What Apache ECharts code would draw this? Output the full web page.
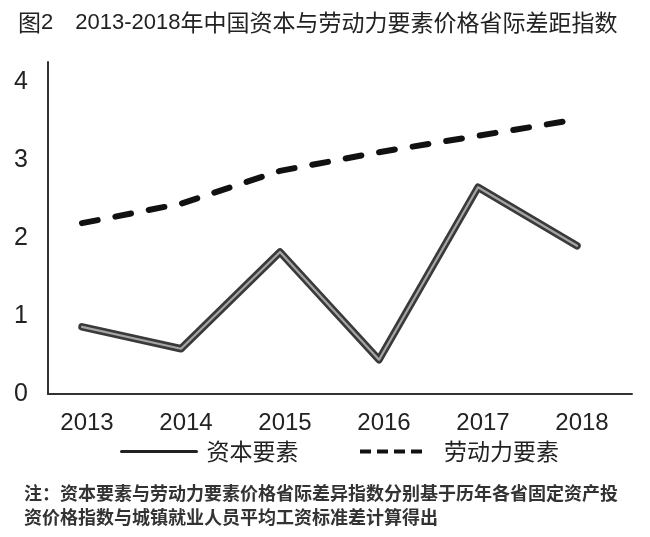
<!DOCTYPE html>
<html>
<head>
<meta charset="utf-8">
<script src="https://cdn.jsdelivr.net/npm/echarts@6/dist/echarts.min.js"></script>
<style>html,body{margin:0;padding:0;background:#fff}#c{width:650px;height:537px}</style>
</head>
<body>
<div id="c"></div>
<script>
var years = ['2013', '2014', '2015', '2016', '2017', '2018'];
var capital = [0.86, 0.58, 1.82, 0.44, 2.65, 1.90];
var labor = [2.19, 2.44, 2.86, 3.10, 3.31, 3.52];
var yTicks = [0, 1, 2, 3, 4];
var titleParts = ['图', '2', '2013-2018', '年中国资本与劳动力要素价格省际差距指数'];
var noteLines = ['注：资本要素与劳动力要素价格省际差异指数分别基于历年各省固定资产投', '资价格指数与城镇就业人员平均工资标准差计算得出'];

var chart = echarts.init(document.getElementById('c'), null, {renderer: 'canvas'});
var yMax = 4.256;
var latin = "'Liberation Sans', 'Noto Sans CJK SC', sans-serif";
var cjk = "'Noto Sans CJK SC', sans-serif";
var titleText = '{c|' + titleParts[0] + '}{d|' + titleParts[1] + '}{g| }{d|' + titleParts[2] + '}{c|' + titleParts[3] + '}';
var option = {
  backgroundColor: '#fff',
  animation: false,
  title: [
    {text: titleText, left: 18, top: 11, padding: 0,
     textStyle: {
       rich: {
         c: {fontSize: 23, fontFamily: cjk, color: '#222', fontWeight: 'normal'},
         d: {fontSize: 22, fontFamily: latin, color: '#222', fontWeight: 'normal'},
         g: {fontSize: 22, width: 22, fontFamily: latin}
       }}},
    {text: noteLines.join('\n'), left: 24, top: 481, padding: 0,
     textStyle: {fontSize: 18, lineHeight: 24, fontWeight: 'bold', color: '#333', fontFamily: cjk}}
  ],
  grid: [
    {left: 48, right: 18, top: 62, bottom: 143},
    {left: 82, right: 73, top: 62, bottom: 143}
  ],
  xAxis: [
    {gridIndex: 0, type: 'value', min: 0, max: 1,
     axisLine: {show: true, lineStyle: {color: '#333', width: 2}},
     axisTick: {show: false}, axisLabel: {show: false}, splitLine: {show: false}},
    {gridIndex: 1, type: 'category', data: years, boundaryGap: false,
     axisLine: {show: false}, axisTick: {show: false}, splitLine: {show: false},
     axisLabel: {fontSize: 24, color: '#222', margin: 17, fontFamily: latin, padding: [0, 0, 0, 10]}}
  ],
  yAxis: [
    {gridIndex: 0, type: 'value', min: 0, max: yMax, interval: 1,
     axisLine: {show: true, lineStyle: {color: '#333', width: 2}},
     axisTick: {show: false}, splitLine: {show: false},
     axisLabel: {fontSize: 25, color: '#222', margin: 20, fontFamily: latin,
       formatter: function (v) { return yTicks.indexOf(v) >= 0 ? String(v) : ''; }}},
    {gridIndex: 1, type: 'value', min: 0, max: yMax, show: false}
  ],
  legend: [
    {data: ['资本要素'], left: 120, top: 440, padding: 0, itemWidth: 75, itemHeight: 14,
     itemStyle: {opacity: 0},
     lineStyle: {width: 3, color: '#222', type: 'solid'},
     textStyle: {fontSize: 23, color: '#222', fontFamily: cjk, padding: [0, 0, 0, 5]}},
    {data: ['劳动力要素'], left: 358, top: 440, padding: 0, itemWidth: 64, itemHeight: 14,
     itemStyle: {opacity: 0},
     lineStyle: {width: 4, color: '#111', type: [11, 6], cap: 'butt'},
     textStyle: {fontSize: 23, color: '#222', fontFamily: cjk, padding: [0, 0, 0, 15]}}
  ],
  series: [
    {name: '资本要素', type: 'line', xAxisIndex: 1, yAxisIndex: 1, data: capital, symbol: 'none', z: 2,
     lineStyle: {color: '#3a3a3a', width: 7.5, cap: 'round', join: 'round'}},
    {name: '资本要素', type: 'line', xAxisIndex: 1, yAxisIndex: 1, data: capital, symbol: 'none', z: 3,
     lineStyle: {color: '#a5a5a5', width: 2.2, cap: 'round', join: 'round'}},
    {name: '劳动力要素', type: 'line', xAxisIndex: 1, yAxisIndex: 1, data: labor, symbol: 'none', z: 2,
     lineStyle: {color: '#111', width: 6, type: [16, 18], cap: 'round', join: 'round'}}
  ]
};
chart.setOption(option);
</script>
</body>
</html>
